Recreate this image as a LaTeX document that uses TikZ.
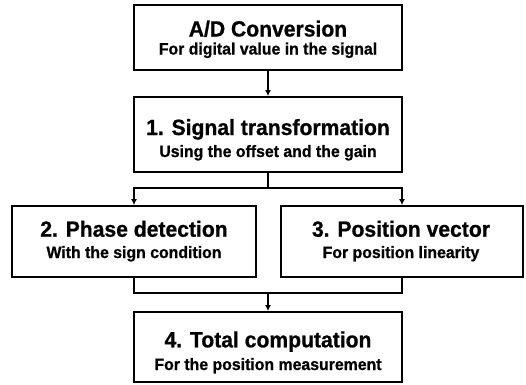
\documentclass[tikz,border=0pt]{standalone}
\usepackage{fontspec}
\setmainfont{Liberation Sans}[FakeStretch=0.96, BoldFeatures={FakeBold=0.8}]
\usetikzlibrary{arrows.meta}

\tikzset{
  stagebox/.style={draw=black, line width=1.8pt, fill=white, inner sep=0pt},
  headline/.style={anchor=base, inner sep=0pt, font=\fontsize{22}{24}\selectfont\bfseries},
  subline/.style={anchor=base, inner sep=0pt, font=\fontsize{16.5}{18}\selectfont\bfseries},
  flow/.style={line width=1.8pt, -{Latex[length=6pt,width=6pt]}},
  link/.style={line width=1.8pt}
}

\begin{document}
\begin{tikzpicture}[x=1pt, y=-1pt]
  \useasboundingbox (0,0) rectangle (526,384);

  % processing stages
  \node[stagebox, minimum width=268pt, minimum height=65pt] (ad)  at (268,37.5) {};
  \node[stagebox, minimum width=268pt, minimum height=75pt] (sig) at (268,134.5) {};
  \node[stagebox, minimum width=244pt, minimum height=71pt] (ph)  at (134,241.5) {};
  \node[stagebox, minimum width=242pt, minimum height=71pt] (pos) at (402,241.5) {};
  \node[stagebox, minimum width=268pt, minimum height=70pt] (tot) at (268,347) {};

  % stage captions
  \node[headline] (adT)  at (268,36.5)  {A/D Conversion};
  \node[subline]  (adS)  at (268,54.5)  {For digital value in the signal};
  \node[headline] (sigT) at (268,135)   {1. Signal transformation};
  \node[subline]  (sigS) at (268,157)   {Using the offset and the gain};
  \node[headline] (phT)  at (134,236.7) {2. Phase detection};
  \node[subline]  (phS)  at (134,258)   {With the sign condition};
  \node[headline] (posT) at (401,236.7) {3. Position vector};
  \node[subline]  (posS) at (401,258)   {For position linearity};
  \node[headline] (totT) at (268,347.3) {4. Total computation};
  \node[subline]  (totS) at (268,370)   {For the position measurement};

  % branching and merging points
  \coordinate (split) at (268,188);
  \coordinate (merge) at (268,293);

  % connectors
  \draw[flow] (ad.south) -- (sig.north);
  \draw[link] (sig.south) -- (split);
  \draw[flow] (split) -| (ph.north);
  \draw[flow] (split) -| (pos.north);
  \draw[link] (ph.south) |- (merge);
  \draw[link] (pos.south) |- (merge);
  \draw[flow] (merge) -- (tot.north);
\end{tikzpicture}
\end{document}
